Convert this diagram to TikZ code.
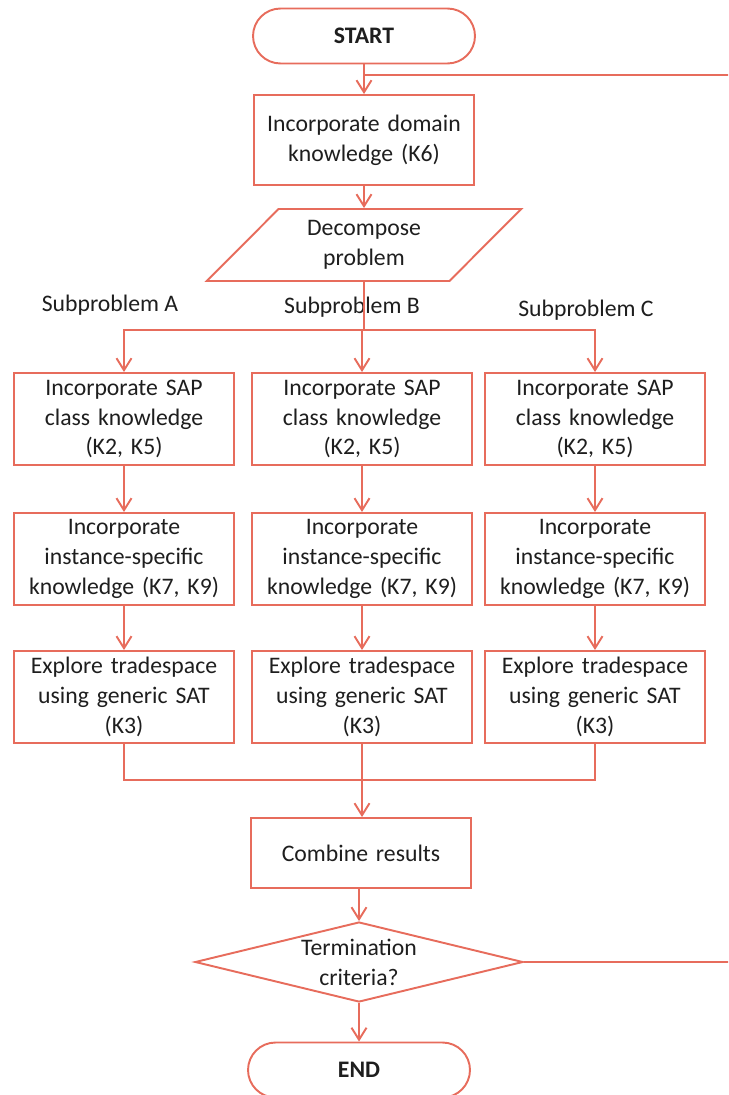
\documentclass[tikz,border=0pt]{standalone}
\usepackage{fontspec}
\setmainfont{Carlito}
\usepackage{xcolor}
\usetikzlibrary{shapes.geometric,arrows.meta}
\definecolor{flowred}{RGB}{231,108,92}
\definecolor{inkgray}{RGB}{30,30,30}

\begin{document}
\begin{tikzpicture}[x=0.02cm, y=-0.02cm, font=\fontsize{13.5}{17}\selectfont, text=inkgray]
  \tikzstyle{terminal} = [rectangle, rounded corners=0.55cm, minimum width=4.44cm, minimum height=1.1cm, draw=flowred, line width=1.1pt, font=\fontsize{13.5}{17}\selectfont\bfseries]
  \tikzstyle{process} = [rectangle, minimum width=4.4cm, minimum height=1.84cm, text width=4.3cm, inner sep=1pt, align=center, draw=flowred, line width=1.1pt]
  \tikzstyle{decomp} = [trapezium, trapezium stretches=true, trapezium left angle=49, trapezium right angle=131, minimum width=6.3cm, minimum height=1.44cm, align=center, draw=flowred, line width=1.1pt]
  \tikzstyle{decision} = [diamond, shape aspect=4.1, inner sep=0pt, minimum width=6.56cm, minimum height=1.6cm, align=center, draw=flowred, line width=1.1pt]
  \tikzstyle{sublabel} = [inner sep=0pt]
  \tikzstyle{line} = [line width=1.1pt, draw=flowred]
  \tikzstyle{arrow} = [line width=1.1pt, draw=flowred, -{Straight Barb[length=2.4mm,width=3mm]}]

  \path [use as bounding box, clip] (0,0) rectangle (728,1095);

  \node (start) [terminal] at (364,36) {START};
  \node (domain) [process, minimum height=1.8cm] at (364,140) {Incorporate domain\\knowledge (K6)};
  \node (decomp) [decomp] at (364,245) {Decompose\\problem};

  \node (subA) [sublabel] at (110,305) {Subproblem A};
  \node (subB) [sublabel] at (352,307) {Subproblem B};
  \node (subC) [sublabel] at (586,310) {Subproblem C};

  \node (sapA) [process] at (124,419) {Incorporate SAP\\class knowledge\\(K2, K5)};
  \node (sapB) [process] at (362,419) {Incorporate SAP\\class knowledge\\(K2, K5)};
  \node (sapC) [process] at (595,419) {Incorporate SAP\\class knowledge\\(K2, K5)};
  \node (instA) [process, below=0pt] at (124,512) {Incorporate\\instance-specific\\knowledge (K7, K9)};
  \node (instB) [process, below=0pt] at (362,512) {Incorporate\\instance-specific\\knowledge (K7, K9)};
  \node (instC) [process, below=0pt] at (595,512) {Incorporate\\instance-specific\\knowledge (K7, K9)};
  \node (satA) [process, below=0pt] at (124,650) {Explore tradespace\\using generic SAT\\(K3)};
  \node (satB) [process, below=0pt] at (362,650) {Explore tradespace\\using generic SAT\\(K3)};
  \node (satC) [process, below=0pt] at (595,650) {Explore tradespace\\using generic SAT\\(K3)};

  \node (combine) [process, minimum height=1.4cm] at (361,853) {Combine results};
  \node (term) [decision] at (359,962) {Termination\\criteria?};
  \node (end) [terminal] at (359,1070) {END};

  \coordinate (loop) at (364,75);
  \coordinate (back) at (745,75);
  \coordinate (split) at (364,330);
  \coordinate (merge) at (362,780);

  \draw [arrow] (start) -- (domain);
  \draw [arrow] (domain) -- (decomp);
  \draw [line] (decomp) -- (split);
  \draw [arrow] (split) -| (sapA);
  \draw [arrow] (split) -| (sapB);
  \draw [arrow] (split) -| (sapC);
  \draw [arrow] (sapA) -- (instA);
  \draw [arrow] (sapB) -- (instB);
  \draw [arrow] (sapC) -- (instC);
  \draw [arrow] (instA) -- (satA);
  \draw [arrow] (instB) -- (satB);
  \draw [arrow] (instC) -- (satC);
  \draw [line] (satA) |- (merge) -| (satC);
  \draw [arrow] (satB) -- (combine.north -| satB);
  \draw [arrow] (combine.south -| term) -- (term);
  \draw [arrow] (term) -- (end);
  \draw [line] (term) -| (back) -- (loop);
\end{tikzpicture}
\end{document}
